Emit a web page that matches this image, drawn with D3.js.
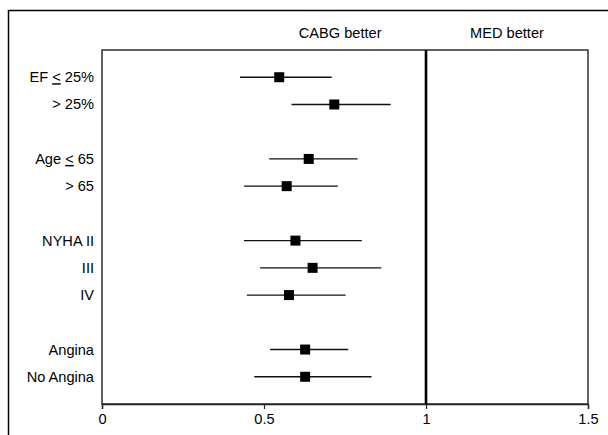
<!DOCTYPE html>
<html>
<head>
<meta charset="utf-8">
<script src="https://cdn.jsdelivr.net/npm/d3@7"></script>
<style>
  body { margin: 0; background: #fff; }
  svg { display: block; }
  text { font-family: "Liberation Sans", Arial, sans-serif; fill: #000; }
</style>
</head>
<body>
<svg width="608" height="435"></svg>
<script>
// subgroup labels (prefix, comparator, rest) and row slots
const labels = [
  ["EF ", "<", " 25%"],
  ["", ">", " 25%"],
  ["Age ", "<", " 65"],
  ["", ">", " 65"],
  ["NYHA II", "", ""],
  ["III", "", ""],
  ["IV", "", ""],
  ["Angina", "", ""],
  ["No Angina", "", ""]
];
const rows = [0, 1, 3, 4, 6, 7, 8, 10, 11];
const estimate = [0.547, 0.717, 0.638, 0.570, 0.597, 0.650, 0.577, 0.627, 0.627];
const lower    = [0.426, 0.585, 0.516, 0.438, 0.438, 0.488, 0.447, 0.519, 0.470];
const upper    = [0.709, 0.891, 0.789, 0.728, 0.802, 0.862, 0.752, 0.760, 0.832];
const xTicks = [0, 0.5, 1, 1.5];
const headers = [["CABG better", 0.735], ["MED better", 1.25]];

const svg = d3.select("svg");
const pLeft = 102, pRight = 588, pTop = 50, pBottom = 404;
const fs = 14.6;

const x = d3.scaleLinear().domain([0, 1.5]).range([pLeft, pRight]);
const y = d3.scaleLinear().domain([-1, 12]).range([pTop, pBottom]);

// outer frame (runs off the right/bottom edge)
svg.append("rect")
  .attr("x", 8.5).attr("y", 10.5)
  .attr("width", 620).attr("height", 440)
  .attr("fill", "none").attr("stroke", "#000").attr("stroke-width", 1.5);

// plot box
svg.append("rect")
  .attr("x", pLeft).attr("y", pTop)
  .attr("width", pRight - pLeft).attr("height", pBottom - pTop)
  .attr("fill", "none").attr("stroke", "#222").attr("stroke-width", 1.4);

// line of no effect
svg.append("line")
  .attr("x1", x(1)).attr("x2", x(1))
  .attr("y1", pTop).attr("y2", pBottom)
  .attr("stroke", "#000").attr("stroke-width", 2.6);

// x axis
const xAxis = d3.axisBottom(x).tickValues(xTicks).tickFormat(d3.format("")).tickSize(5);
const ax = svg.append("g").attr("transform", "translate(0," + pBottom + ")").call(xAxis);
ax.select(".domain").attr("stroke", "#222").attr("stroke-width", 1.4);
ax.selectAll(".tick line").attr("stroke", "#222").attr("stroke-width", 1.2);
ax.selectAll(".tick text")
  .attr("y", 10).attr("font-size", fs)
  .style("font-family", "'Liberation Sans', Arial, sans-serif");

// headers
svg.selectAll("text.hdr")
  .data(headers)
  .enter().append("text")
  .attr("class", "hdr")
  .attr("x", d => x(d[1]))
  .attr("y", 38)
  .attr("text-anchor", "middle")
  .attr("font-size", fs)
  .text(d => d[0]);

// row labels
const lab = svg.selectAll("text.lab")
  .data(labels)
  .enter().append("text")
  .attr("class", "lab")
  .attr("x", 94)
  .attr("y", (d, i) => y(rows[i]) + 5)
  .attr("text-anchor", "end")
  .attr("font-size", fs);
lab.append("tspan").text(d => d[0]);
lab.append("tspan")
  .style("text-decoration", d => d[1] === "<" ? "underline" : "none")
  .text(d => d[1]);
lab.append("tspan").text(d => d[2]);

// confidence intervals
svg.selectAll("line.ci")
  .data(estimate)
  .enter().append("line")
  .attr("class", "ci")
  .attr("x1", (d, i) => x(lower[i]))
  .attr("x2", (d, i) => x(upper[i]))
  .attr("y1", (d, i) => y(rows[i]))
  .attr("y2", (d, i) => y(rows[i]))
  .attr("stroke", "#111").attr("stroke-width", 1.4);

// point estimates
const sq = 10;
svg.selectAll("rect.pt")
  .data(estimate)
  .enter().append("rect")
  .attr("class", "pt")
  .attr("x", d => x(d) - sq / 2)
  .attr("y", (d, i) => y(rows[i]) - sq / 2)
  .attr("width", sq).attr("height", sq)
  .attr("fill", "#000");
</script>
</body>
</html>
